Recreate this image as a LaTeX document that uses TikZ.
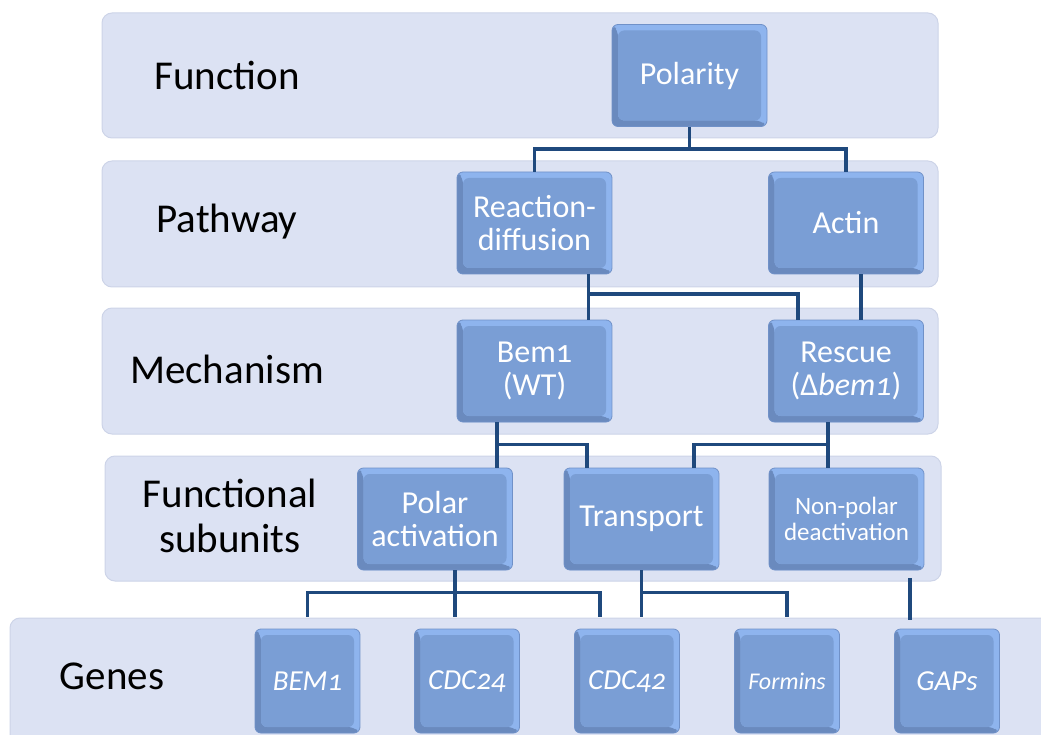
\documentclass[tikz,border=0pt]{standalone}
\usepackage{fontspec}
\setmainfont{Carlito}[Numbers=OldStyle]
\usetikzlibrary{positioning}
\usetikzlibrary{calc}

\definecolor{bandfill}{RGB}{220,226,243}
\definecolor{bandedge}{RGB}{205,212,232}
\definecolor{boxface}{RGB}{122,158,213}
\definecolor{boxlight}{RGB}{142,180,238}
\definecolor{boxdark}{RGB}{106,138,190}
\definecolor{boxrim}{RGB}{112,145,200}
\definecolor{linkblue}{RGB}{31,73,125}

\newcommand{\bandfont}{\fontsize{41}{45}\selectfont}
\newcommand{\cellfont}{\fontsize{32}{33}\selectfont}
\newcommand{\smallcellfont}{\fontsize{25}{25.5}\selectfont}
\newcommand{\genefont}{\fontsize{29}{30}\selectfont}

\tikzset{
  band/.style={fill=bandfill, draw=bandedge, line width=1pt, rounded corners=10pt},
  bandlabel/.style={text=black, align=center, font=\bandfont},
  bevel/.style={path picture={
      \fill[boxlight] (path picture bounding box.north west) rectangle (path picture bounding box.south east);
      \fill[boxdark] (path picture bounding box.north west) -- (path picture bounding box.south west)
        -- (path picture bounding box.south east) -- ([shift={(-6pt,6pt)}]path picture bounding box.south east)
        -- ([shift={(6pt,6pt)}]path picture bounding box.south west) -- ([shift={(6pt,-6pt)}]path picture bounding box.north west) -- cycle;
      \fill[boxface] ([shift={(6pt,-6pt)}]path picture bounding box.north west) rectangle ([shift={(-6pt,6pt)}]path picture bounding box.south east);
  }},
  cell/.style={bevel, draw=boxrim, line width=0.8pt, rounded corners=6pt, text=white, align=center,
    inner sep=1pt, minimum width=155pt, minimum height=102pt, font=\cellfont},
  genecell/.style={cell, minimum width=105pt, minimum height=104pt, font=\genefont},
  link/.style={draw=linkblue, line width=3.8pt},
}

\begin{document}
\begin{tikzpicture}[x=1pt, y=-1pt]
        \useasboundingbox (0,0) rectangle (1041,735);

        % Draw the bands
        \foreach \top/\bot in {13/138, 161/287, 308/434}
        \filldraw[band] (102,\top) rectangle (938,\bot);
        \filldraw[band] (105,456) rectangle (941,581);
        \filldraw[band] (10,618) rectangle (1070,770);

        % Band labels
        \node[bandlabel] (lfun) at (227,75) {Function};
        \node[bandlabel] (lpath) at (227,222) {Pathway};
        \node[bandlabel] (lmech) at (227,369) {Mechanism};
        \node[bandlabel] (lsub) at (230,516) {Functional\\subunits};
        \node[bandlabel] (lgen) at (112,676) {Genes};

        % Boxes
        \node[cell] (pol) at (689.5,75.5) {Polarity};
        \node[cell] (rd) at (534.5,223) {Reaction-\\diffusion};
        \node[cell] (act) at (846,223) {Actin};
        \node[cell] (bem) at (534.5,371) {Bem1\\(WT)};
        \node[cell] (res) at (846,371) {Rescue\\(Δ\textit{bem1})};
        \node[cell] (pa) at (435,519) {Polar\\activation};
        \node[cell] (tr) at (641.5,519) {Transport};
        \node[cell, font=\smallcellfont] (np) at (846.5,519) {Non-polar\\deactivation};

        \foreach \name/\x/\txt in {g1/307.5/BEM1, g2/467/CDC24, g3/627/CDC42, g5/947/GAPs}
        \node[genecell] (\name) at (\x,681) {\textit{\txt}};
        \node[genecell, font=\fontsize{24}{24}\selectfont] (g4) at (787,681) {\textit{Formins}};

        % Draw the links
        \coordinate (polsplit) at ($(pol.south)+(0,22)$);
        \draw[link] (pol.south) -- (polsplit) -| (rd.north);
        \draw[link] (polsplit) -| (act.north);

        \draw[link] ([xshift=54pt]rd.south) -- ([xshift=54pt]bem.north);
        \draw[link] ([xshift=54pt]rd.south) ++(0,20) -| ([xshift=-48pt]res.north);
        \draw[link] ([xshift=15pt]act.south) -- ([xshift=15pt]res.north);

        \draw[link] ([xshift=-37.5pt]bem.south) -- ([xshift=62pt]pa.north);
        \draw[link] ([xshift=-37.5pt]bem.south) ++(0,22) -| ([xshift=-54.5pt]tr.north);
        \draw[link] ([xshift=-18pt]res.south) -- ([xshift=-18.5pt]np.north);
        \draw[link] ([xshift=-18pt]res.south) ++(0,22) -| ([xshift=52.5pt]tr.north);

        \draw[link, shorten >=12pt] ([xshift=20pt]pa.south) -- ([xshift=-12pt]g2.north);
        \draw[link, shorten >=12pt] ([xshift=20pt]pa.south) ++(0,22) -| (g1.north);
        \draw[link, shorten >=12pt] ([xshift=20pt]pa.south) ++(0,22) -| ([xshift=-27pt]g3.north);
        \draw[link, shorten >=12pt] (tr.south) -- ([xshift=14.5pt]g3.north);
        \draw[link, shorten >=12pt] (tr.south) ++(0,22) -| (g4.north);
        \draw[link, shorten <=8pt, shorten >=9pt] ([xshift=63.5pt]np.south) -- ([xshift=-37pt]g5.north);
      \end{tikzpicture}
\end{document}
